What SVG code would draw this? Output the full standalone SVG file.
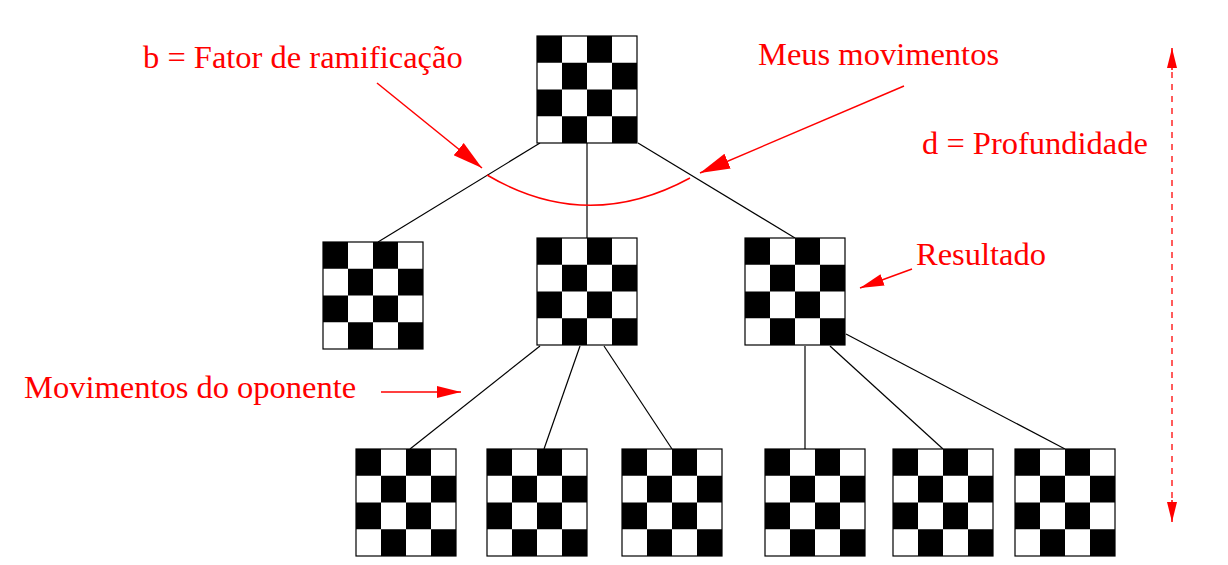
<svg xmlns="http://www.w3.org/2000/svg" xmlns:xlink="http://www.w3.org/1999/xlink" width="1228" height="565" viewBox="0 0 1228 565">
<style>
.lbl{font-family:"Liberation Serif","Times New Roman",serif;font-size:32.5px;fill:#ff0000}
.edge{stroke:#000;stroke-width:1.2;fill:none}
.red{stroke:#ff0000;stroke-width:1.5;fill:none}
.dash{stroke:#ff3333;stroke-width:1.6;fill:none;stroke-dasharray:6 6}
</style>
<defs>
<g id="board">
<rect x="0" y="0" width="100" height="107" fill="#fff" stroke="#000" stroke-width="1.2"/>
<g fill="#000">
<rect x="0" y="0" width="25" height="26.75"/>
<rect x="50" y="0" width="25" height="26.75"/>
<rect x="25" y="26.75" width="25" height="26.75"/>
<rect x="75" y="26.75" width="25" height="26.75"/>
<rect x="0" y="53.5" width="25" height="26.75"/>
<rect x="50" y="53.5" width="25" height="26.75"/>
<rect x="25" y="80.25" width="25" height="26.75"/>
<rect x="75" y="80.25" width="25" height="26.75"/>
</g>
</g>
<marker id="big" markerUnits="userSpaceOnUse" markerWidth="32" markerHeight="18" refX="30" refY="8" orient="auto" viewBox="0 0 32 16">
<path d="M0,0 L30,8 L0,16 Z" fill="#ff0000"/>
</marker>
<marker id="mid" markerUnits="userSpaceOnUse" markerWidth="26" markerHeight="14" refX="24" refY="6" orient="auto" viewBox="0 0 26 12">
<path d="M0,0 L24,6 L0,12 Z" fill="#ff0000"/>
</marker>
<marker id="small" markerUnits="userSpaceOnUse" markerWidth="22" markerHeight="12" refX="20" refY="5" orient="auto" viewBox="0 0 22 10">
<path d="M0,0 L20,5 L0,10 Z" fill="#ff0000"/>
</marker>
</defs>
<g id="connectors">
<line class="edge" x1="540" y1="143" x2="378" y2="242"/>
<line class="edge" x1="587" y1="143" x2="587" y2="238"/>
<line class="edge" x1="638" y1="143" x2="795" y2="238"/>
<line class="edge" x1="540" y1="346" x2="410" y2="449"/>
<line class="edge" x1="580" y1="346" x2="544" y2="449"/>
<line class="edge" x1="604" y1="346" x2="672" y2="449"/>
<line class="edge" x1="805" y1="346" x2="805" y2="449"/>
<line class="edge" x1="830" y1="346" x2="943" y2="449"/>
<line class="edge" x1="846" y1="334" x2="1065" y2="449"/>
</g>
<g id="node-root"><use xlink:href="#board" href="#board" x="537" y="36"/></g>
<g id="node-m1"><use xlink:href="#board" href="#board" x="323" y="242"/></g>
<g id="node-m2"><use xlink:href="#board" href="#board" x="537" y="238"/></g>
<g id="node-m3"><use xlink:href="#board" href="#board" x="745" y="238"/></g>
<g id="node-b1"><use xlink:href="#board" href="#board" x="356" y="449"/></g>
<g id="node-b2"><use xlink:href="#board" href="#board" x="487" y="449"/></g>
<g id="node-b3"><use xlink:href="#board" href="#board" x="622" y="449"/></g>
<g id="node-b4"><use xlink:href="#board" href="#board" x="765" y="449"/></g>
<g id="node-b5"><use xlink:href="#board" href="#board" x="893" y="449"/></g>
<g id="node-b6"><use xlink:href="#board" href="#board" x="1015" y="449"/></g>
<g id="annotations">
<path class="red" d="M487,175 Q587,234 690,178"/>
<line class="red" x1="377" y1="83" x2="482" y2="168" marker-end="url(#big)"/>
<line class="red" x1="904" y1="86" x2="700" y2="173" marker-end="url(#big)"/>
<line class="red" x1="912" y1="269" x2="860" y2="288" marker-end="url(#mid)"/>
<line class="red" x1="381" y1="392" x2="461" y2="392" marker-end="url(#mid)"/>
<line class="dash" x1="1172" y1="72" x2="1172" y2="500"/>
<line class="red" x1="1172" y1="70" x2="1172" y2="48" marker-end="url(#small)"/>
<line class="red" x1="1172" y1="500" x2="1172" y2="522" marker-end="url(#small)"/>
<text class="lbl" x="143" y="68">b = Fator de ramificação</text>
<text class="lbl" x="758" y="65">Meus movimentos</text>
<text class="lbl" x="922" y="154">d = Profundidade</text>
<text class="lbl" x="916" y="265">Resultado</text>
<text class="lbl" x="24" y="398">Movimentos do oponente</text>
</g>
</svg>
